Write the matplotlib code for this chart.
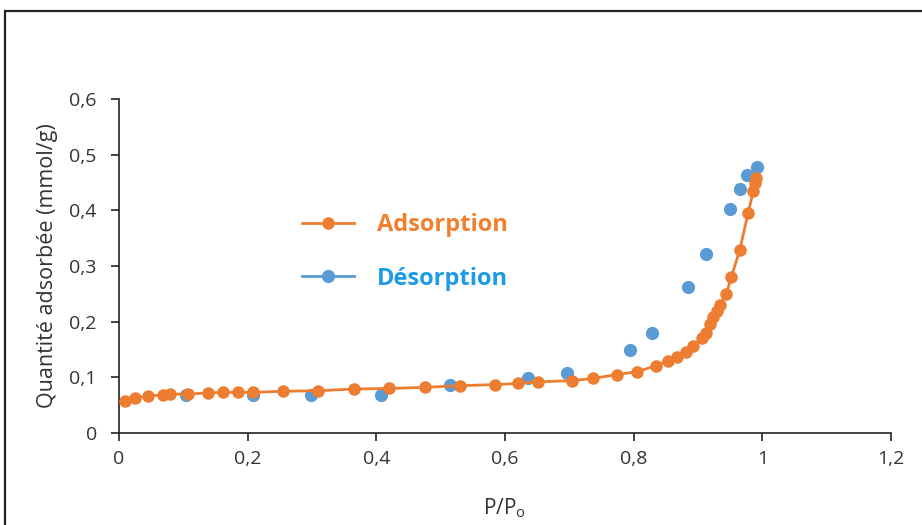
import numpy as np
import matplotlib.pyplot as plt
from matplotlib.lines import Line2D
from matplotlib.patches import Rectangle
from matplotlib.ticker import FuncFormatter, MultipleLocator

# isotherme d'adsorption / desorption
ads_x = [0.01, 0.025, 0.045, 0.068, 0.080, 0.108, 0.139, 0.161, 0.185, 0.208,
         0.255, 0.31, 0.365, 0.42, 0.475, 0.53, 0.585, 0.62, 0.652, 0.704,
         0.737, 0.774, 0.805, 0.835, 0.854, 0.867, 0.882, 0.892, 0.906, 0.913,
         0.919, 0.924, 0.929, 0.934, 0.944, 0.952, 0.965, 0.978, 0.986, 0.989, 0.990]
ads_y = [0.057, 0.063, 0.066, 0.069, 0.070, 0.070, 0.072, 0.073, 0.073, 0.073,
         0.075, 0.076, 0.079, 0.080, 0.082, 0.085, 0.087, 0.089, 0.092, 0.094,
         0.098, 0.105, 0.110, 0.121, 0.130, 0.137, 0.146, 0.156, 0.170, 0.180,
         0.195, 0.208, 0.220, 0.230, 0.250, 0.281, 0.329, 0.396, 0.434, 0.449, 0.458]

des_x = [0.104, 0.208, 0.298, 0.407, 0.515, 0.636, 0.696, 0.794, 0.829, 0.885,
         0.913, 0.950, 0.965, 0.976, 0.991]
des_y = [0.069, 0.069, 0.069, 0.069, 0.086, 0.098, 0.108, 0.149, 0.180, 0.262,
         0.321, 0.402, 0.438, 0.463, 0.477]

orange = '#ED7D31'
blue = '#5B9BD5'

plt.rcParams['font.family'] = ['Open Sans', 'DejaVu Sans']

fig = plt.figure(figsize=(9.22, 5.25), dpi=100)
ax = fig.add_axes([119/922, 1-433/525, 772/922, 334/525])

# cadre autour du graphique
fig.patches.append(Rectangle((5/922, -0.1), 1.2, 1-11/525+0.1, transform=fig.transFigure,
                             fill=False, edgecolor='#222222', linewidth=1.6))

ax.plot(ads_x, ads_y, color=orange, lw=2, marker='o', ms=8, zorder=3)
ax.plot(des_x, des_y, color=blue, ls='none', marker='o', ms=8.5, zorder=2)

ax.set_xlim(0, 1.2)
ax.set_ylim(0, 0.6)
ax.xaxis.set_major_locator(MultipleLocator(0.2))
ax.yaxis.set_major_locator(MultipleLocator(0.1))
fmt = FuncFormatter(lambda v, p: ('%g' % round(v, 2)).replace('.', ','))
ax.xaxis.set_major_formatter(fmt)
ax.yaxis.set_major_formatter(fmt)

for s in ['top', 'right']:
    ax.spines[s].set_visible(False)
for s in ['left', 'bottom']:
    ax.spines[s].set_color('#222222')
    ax.spines[s].set_linewidth(1.2)
ax.tick_params(direction='out', length=6, width=1.2, color='#222222',
               labelsize=14, labelcolor='#333333')
ax.tick_params(axis='x', pad=6)
ax.tick_params(axis='y', pad=10)

ax.set_xlabel('P/P$_\\mathregular{o}$', fontsize=15, color='#333333', labelpad=21)
ax.set_ylabel('Quantité adsorbée (mmol/g)', fontsize=15.5, color='#333333', labelpad=8)

handles = [Line2D([], [], color=orange, lw=2, marker='o', ms=8),
           Line2D([], [], color=blue, lw=2, marker='o', ms=8.5)]
ax.legend(handles, ['Adsorption', 'Désorption'], frameon=False,
          loc='upper left', bbox_to_anchor=(0.21, 0.722),
          prop={'weight': 'bold', 'size': 17}, labelcolor=['#F07F2E', '#1E9BE8'],
          handlelength=2.2, handletextpad=0.95, labelspacing=1.25)

fig.savefig('out.png', dpi=100)
